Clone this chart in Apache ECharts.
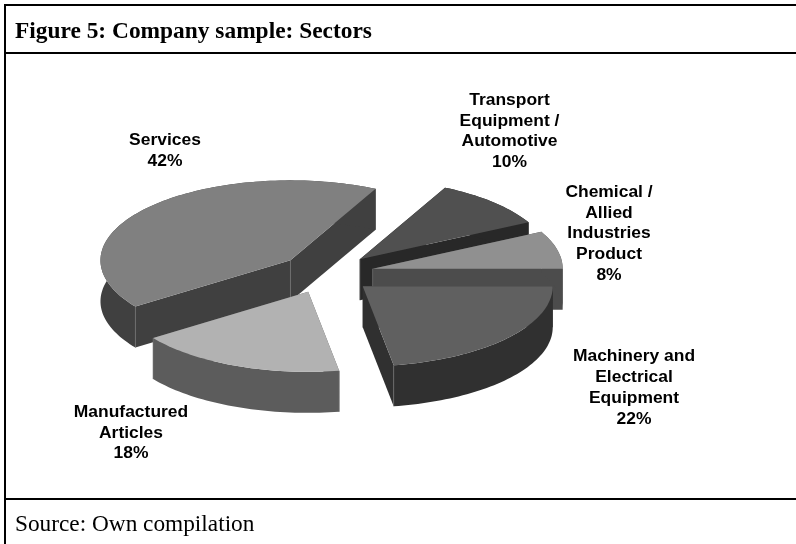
<!DOCTYPE html>
<html><head><meta charset="utf-8">
<style>html,body{margin:0;padding:0;background:#fff}#c{width:796px;height:544px}</style>
<script src="https://cdn.jsdelivr.net/npm/echarts@6/dist/echarts.min.js"></script>
</head><body><div id="c"></div>
<script>
// Data, clockwise from the first slice
const categories = ['Services', 'Transport\nEquipment /\nAutomotive', 'Chemical /\nAllied\nIndustries\nProduct', 'Machinery and\nElectrical\nEquipment', 'Manufactured\nArticles'];
const shares = [42.2, 10, 7.6, 22.4, 17.8];

// Styling
const topColors = ['#808080', '#505050', '#909090', '#606060', '#b2b2b2'];
const wallColors = ['#404040', '#282828', '#4c4c4c', '#303030', '#5c5c5c'];
const labelAnchors = [[165, 130], [509.5, 90], [609, 182], [634, 346.5], [131, 402]];
const START_ANGLE = 215.3;  // where the first slice begins, going clockwise
const EXPLODE = 0.25, DEPTH = 0.5125;

const total = shares.reduce((a, b) => a + b, 0);
const rad = d => d * Math.PI / 180;
const starts = [];
shares.reduce((acc, v, i) => { starts[i] = acc; return acc - v / total * 360; }, START_ANGLE);

function renderSlice(params, api) {
  const i = api.value(0), v = api.value(1);
  const a0 = starts[i], a1 = a0 - v / total * 360, mid = (a0 + a1) / 2;
  const ox = EXPLODE * Math.cos(rad(mid)), oy = EXPLODE * Math.sin(rad(mid));
  const P = (x, y) => api.coord([ox + x, oy + y]);
  const arcTop = [], arcBot = [];
  const n = Math.max(8, Math.ceil((a0 - a1) / 1.5));
  for (let k = 0; k <= n; k++) {
    const a = rad(a0 + (a1 - a0) * k / n);
    arcTop.push(P(Math.cos(a), Math.sin(a)));
    arcBot.push(P(Math.cos(a), Math.sin(a) - DEPTH));
  }
  const apex = P(0, 0), apexB = P(0, -DEPTH);
  const wall = points => ({ type: 'polygon', shape: { points }, style: { fill: wallColors[i] } });
  const edge = (p, q) => ({ type: 'line', shape: { x1: p[0], y1: p[1], x2: q[0], y2: q[1] }, style: { stroke: '#6e6e6e', lineWidth: 0.7 } });
  const edges = [];
  if (oy > 0) edges.push(edge(apex, apexB));
  if (Math.sin(rad(a0)) < 0) edges.push(edge(arcTop[0], arcBot[0]));
  if (Math.sin(rad(a1)) < 0) edges.push(edge(arcTop[n], arcBot[n]));
  return {
    type: 'group', silent: true,
    children: [
      wall([apex, arcTop[0], arcBot[0], apexB]),
      wall([apex, arcTop[n], arcBot[n], apexB]),
      wall(arcTop.concat(arcBot.slice().reverse()))
    ].concat(edges, [
      { type: 'polygon', shape: { points: [apex].concat(arcTop) }, style: { fill: topColors[i] } }
    ])
  };
}

const rule = (x, y, w, h) => ({ type: 'rect', silent: true, shape: { x, y, width: w, height: h }, style: { fill: '#000' } });
const labels = categories.map((c, i) => ({
  type: 'text', silent: true, x: labelAnchors[i][0], y: labelAnchors[i][1], scaleX: 1.09,
  style: { text: c + '\n' + Math.round(shares[i]) + '%', align: 'center', verticalAlign: 'top', lineHeight: 20.8,
           font: 'bold 16px "Liberation Sans", Arial, sans-serif', fill: '#000' }
}));

const chart = echarts.init(document.getElementById('c'), null, { renderer: 'canvas' });
chart.setOption({
  animation: false,
  backgroundColor: '#fff',
  tooltip: { show: false },
  grid: { left: 136.5, top: 193.4, width: 380, height: 160, containLabel: false },
  xAxis: { type: 'value', min: -1, max: 1, show: false },
  yAxis: { type: 'value', min: -1, max: 1, show: false },
  graphic: [
    rule(4, 4, 792, 2), rule(4, 4, 2, 540), rule(4, 52, 792, 2), rule(4, 498, 792, 2),
    { type: 'text', silent: true, x: 15, y: 32, style: { text: 'Figure 5: Company sample: Sectors', verticalAlign: 'middle', font: 'bold 23.4px "Liberation Serif", "Times New Roman", serif', fill: '#000' } },
    { type: 'text', silent: true, x: 15, y: 525, style: { text: 'Source: Own compilation', verticalAlign: 'middle', font: '23.3px "Liberation Serif", "Times New Roman", serif', fill: '#000' } }
  ].concat(labels),
  series: [{
    type: 'custom', coordinateSystem: 'cartesian2d', clip: false, silent: true,
    renderItem: renderSlice,
    data: shares.map((v, i) => [i, v]),
    encode: { x: 0, y: 1 }
  }]
});
</script></body></html>
